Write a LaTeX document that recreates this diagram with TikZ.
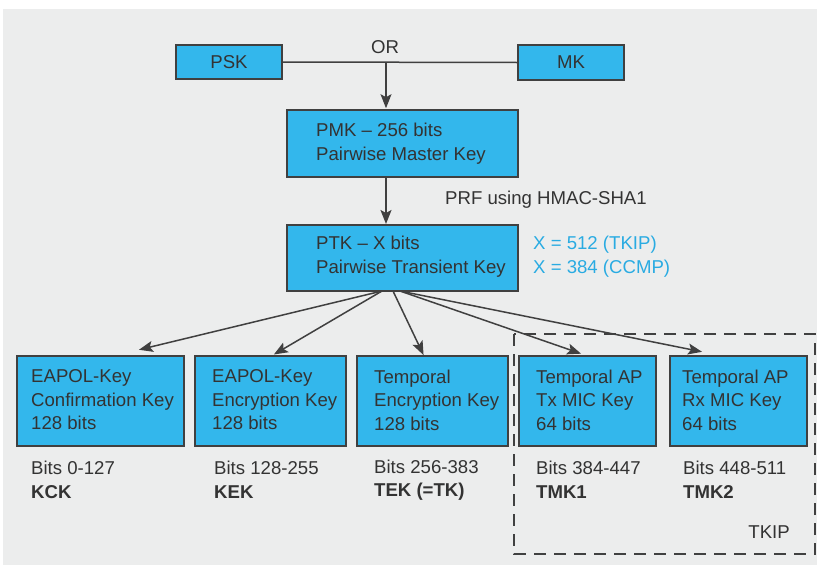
\documentclass[tikz,border=0pt]{standalone}
\usepackage{fontspec}
\setmainfont{Liberation Sans}
\usetikzlibrary{arrows.meta}
\definecolor{bgc}{RGB}{236,237,237}
\definecolor{boxfill}{RGB}{51,183,236}
\definecolor{boxline}{RGB}{64,64,64}
\definecolor{txt}{RGB}{51,51,51}
\definecolor{bluetxt}{RGB}{41,171,226}
\begin{document}
\begin{tikzpicture}[x=1pt,y=-1pt,
  keybox/.style={draw=boxline,fill=boxfill,line width=1.6pt,rectangle,inner sep=0pt},
  ltxt/.style={text=txt,align=left,inner sep=0pt,anchor=west,font=\fontsize{18.6}{23.5}\selectfont},
  ctxt/.style={text=txt,inner sep=0pt,font=\fontsize{18.6}{23.5}\selectfont},
  conn/.style={draw=boxline,line width=1.5pt},
  arr/.style={conn,-{Stealth[length=14pt,width=11pt,inset=3pt]},shorten >=1pt}]
\useasboundingbox (0,0) rectangle (817,565);
\fill[bgc] (3,9) rectangle (817,565);
% top boxes
\node[keybox,minimum width=106,minimum height=34] (psk) at (229,62) {};
\node[ctxt] (psklab) at (psk.center) {PSK};
\node[keybox,minimum width=106,minimum height=35] (mk) at (571,62.5) {};
\node[ctxt] (mklab) at (mk.center) {MK};
\coordinate (junc) at (386,62);
\draw[conn] (psk.east) -- (mk.west);
\node[ctxt] (or) at (385,47) {OR};
% PMK
\node[keybox,minimum width=231,minimum height=67] (pmk) at (402.5,143.5) {};
\node[ltxt] (pmklab) at (316,143.5) {PMK -- 256 bits\\Pairwise Master Key};
\draw[arr] (junc) -- (junc |- pmk.north);
% PTK
\node[keybox,minimum width=231,minimum height=66] (ptk) at (402.5,258) {};
\node[ltxt] (ptklab) at (316,256.5) {PTK -- X bits\\Pairwise Transient Key};
\draw[arr] (386,177) -- (386,225);
\node[ltxt] (prf) at (445,200) {PRF using HMAC-SHA1};
\node[ltxt,text=bluetxt] (xval) at (533,256.5) {X = 512 (TKIP)\\X = 384 (CCMP)};
% bottom boxes
\node[keybox,minimum width=167,minimum height=90] (k1) at (100.5,401) {};
\node[keybox,minimum width=151,minimum height=90] (k2) at (270.5,401) {};
\node[keybox,minimum width=151,minimum height=90] (k3) at (432.5,401) {};
\node[keybox,minimum width=137,minimum height=90] (k4) at (587.5,401) {};
\node[keybox,minimum width=137,minimum height=90] (k5) at (738.5,401) {};
\node[ltxt] (t1) at (31,400) {EAPOL-Key\\Confirmation Key\\128 bits};
\node[ltxt] (t2) at (212,400) {EAPOL-Key\\Encryption Key\\128 bits};
\node[ltxt] (t3) at (374,400) {Temporal\\Encryption Key\\128 bits};
\node[ltxt] (t4) at (536,400) {Temporal AP\\Tx MIC Key\\64 bits};
\node[ltxt] (t5) at (682,400) {Temporal AP\\Rx MIC Key\\64 bits};
% bits labels
\node[ltxt] (b1) at (31,480) {Bits 0-127\\\textbf{KCK}};
\node[ltxt] (b2) at (214,480) {Bits 128-255\\\textbf{KEK}};
\node[ltxt] (b3) at (374,480) {Bits 256-383\\\textbf{TEK (=TK)}};
\node[ltxt] (b4) at (536,480) {Bits 384-447\\\textbf{TMK1}};
\node[ltxt] (b5) at (683,480) {Bits 448-511\\\textbf{TMK2}};
% arrows from PTK
\coordinate (o1) at (382,291);
\coordinate (o3) at (393,291);
\coordinate (o4) at (400,291);
\coordinate (e1) at (138,350);
\coordinate (e2) at (273,355);
\coordinate (e3) at (424,356);
\coordinate (e4) at (582,354);
\coordinate (e5) at (703,352);
\draw[arr] (o1) -- (e1);
\draw[arr] (o1) -- (e2);
\draw[arr] (o3) -- (e3);
\draw[arr] (o4) -- (e4);
\draw[arr] (o4) -- (e5);
% TKIP dashed region
\draw[draw=boxline,line width=1.3pt,dash pattern=on 12pt off 8pt] (514,334) rectangle (815,554);
\node[ctxt,anchor=east] (tkip) at (790,532) {TKIP};
\end{tikzpicture}
\end{document}
